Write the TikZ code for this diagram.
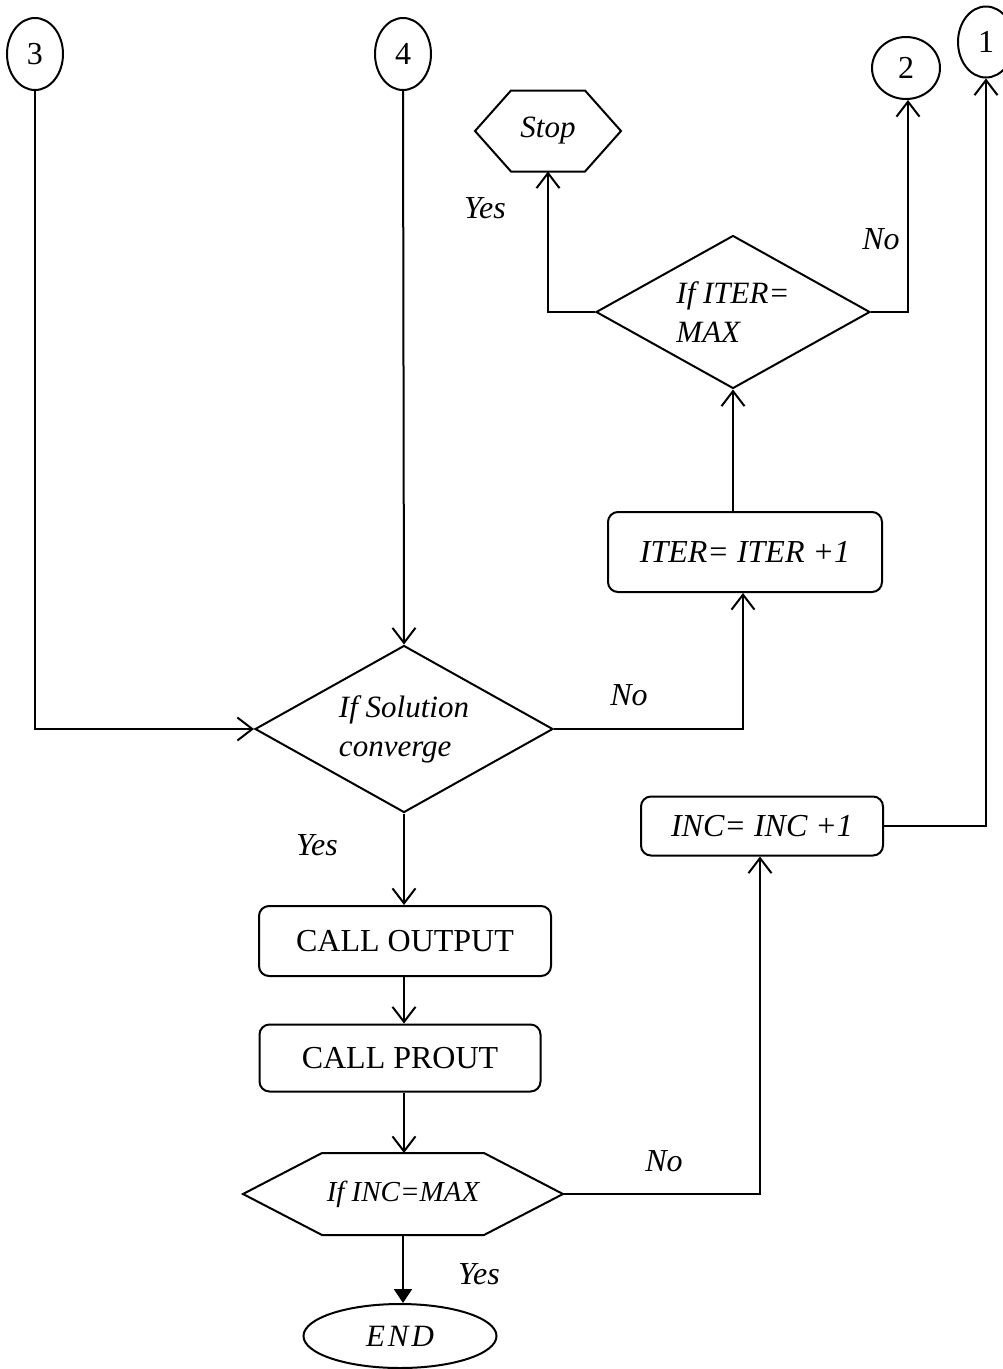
\documentclass[tikz,border=0pt]{standalone}
\usepackage{fontspec}
\setmainfont{Liberation Serif}
\usetikzlibrary{arrows.meta,shapes.geometric,calc}
\begin{document}
\begin{tikzpicture}[x=1pt,y=-1pt,line width=2pt,
  arr/.style={-{Straight Barb[length=15pt,width=23pt,line width=2pt]}},
  farr/.style={-{Triangle[length=14pt,width=18pt]}},
  conn/.style={draw,ellipse,inner sep=0pt,font=\fontsize{32}{36}\selectfont},
  rbox/.style={draw,rounded corners=10pt,inner sep=0pt},
  dia/.style={draw,diamond,aspect=2,inner sep=0pt,align=left,font=\fontsize{31}{39}\selectfont\itshape},
  lab/.style={font=\fontsize{32}{36}\selectfont\itshape},
  hexa/.style={inner sep=0pt}]
\useasboundingbox (0,0) rectangle (1002,1369);
% connectors (circles)
\node[conn,minimum width=56pt,minimum height=72pt] (c3) at (35,54) {3};
\node[conn,minimum width=56pt,minimum height=72pt] (c4) at (403,54) {4};
\node[conn,minimum width=68pt,minimum height=62pt] (c2) at (906,68) {2};
\node[conn,minimum width=56pt,minimum height=71pt] (c1) at (986,42) {1};
% stop hexagon
\node[hexa,minimum width=144pt,minimum height=79pt,font=\fontsize{31}{35}\selectfont\itshape] (stop) at (548,131) {Stop};
\draw (stop.west) -- ([xshift=36pt]stop.north west) -- ([xshift=-36pt]stop.north east) -- (stop.east) -- ([xshift=-36pt]stop.south east) -- ([xshift=36pt]stop.south west) -- cycle;
% ITER diamond
\node[dia,minimum width=274pt,minimum height=153pt] (diter) at (733,312) {If ITER=\\MAX};
% ITER box
\node[rbox,minimum width=274pt,minimum height=80pt,font=\fontsize{32}{36}\selectfont\itshape] (iterbox) at (745,552) {ITER= ITER +1};
% Solution diamond
\node[dia,minimum width=298pt,minimum height=167pt] (dsol) at (404,729) {If Solution\\converge};
% INC box
\node[rbox,minimum width=242pt,minimum height=59pt,font=\fontsize{32}{36}\selectfont\itshape] (incbox) at (762,826) {INC= INC +1};
% CALL boxes
\node[rbox,minimum width=292pt,minimum height=70pt,font=\fontsize{32}{36}\selectfont] (out) at (405,941) {CALL OUTPUT};
\node[rbox,minimum width=281pt,minimum height=67pt,font=\fontsize{32}{36}\selectfont] (prout) at (400,1058) {CALL PROUT};
% INC=MAX hexagon
\node[hexa,minimum width=318pt,minimum height=80pt,font=\fontsize{29}{33}\selectfont\itshape] (dinc) at (403,1194) {If INC=MAX};
\draw (dinc.west) -- ([xshift=79pt]dinc.north west) -- ([xshift=-79pt]dinc.north east) -- (dinc.east) -- ([xshift=-79pt]dinc.south east) -- ([xshift=79pt]dinc.south west) -- cycle;
% END
\node[draw,ellipse,inner sep=0pt,minimum width=193pt,minimum height=64pt,font=\fontsize{31}{35}\selectfont\itshape] (endn) at (400,1336) {E\kern3pt N\kern3pt D};
% connectors
\draw[arr] (c3.south) |- (dsol.west);
\draw[arr] (c4.south) -- (dsol.north);
\draw[arr] (diter.west) -| (stop.south);
\draw[arr] (diter.east) -| ([xshift=2pt]c2.south);
\draw[arr] (diter.south |- iterbox.north) -- (diter.south);
\draw[arr] (dsol.east) -| ([xshift=-2pt]iterbox.south);
\draw[arr] (dsol.south) -- (dsol.south |- out.north);
\draw[arr] (dsol.south |- out.south) -- (dsol.south |- prout.north);
\draw[arr] (dsol.south |- prout.south) -- (dsol.south |- dinc.north);
\draw[arr] (dinc.east) -| ([xshift=-2pt]incbox.south);
\draw[arr] (incbox.east) -| (c1.south);
\draw[farr] (dinc.south) -- (dinc.south |- endn.north);
% labels
\node[lab] (l1) at (485,208) {Yes};
\node[lab] (l2) at (881,239) {No};
\node[lab] (l3) at (629,695) {No};
\node[lab] (l4) at (317,845) {Yes};
\node[lab] (l5) at (664,1161) {No};
\node[lab] (l6) at (479,1274) {Yes};
\end{tikzpicture}
\end{document}
